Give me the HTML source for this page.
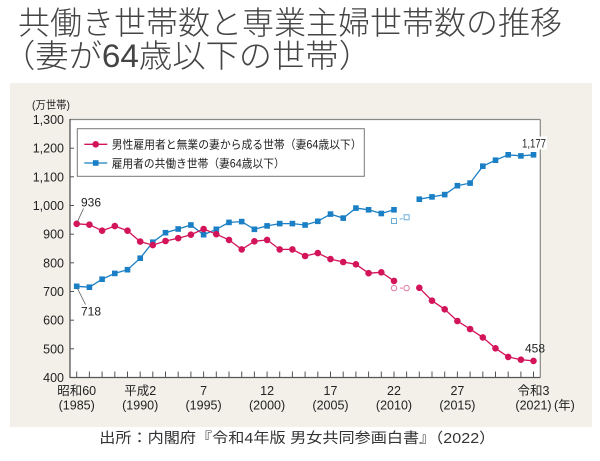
<!DOCTYPE html>
<html><head><meta charset="utf-8"><style>
html,body{margin:0;padding:0;background:#fff;}
body{width:600px;height:461px;overflow:hidden;}
svg{display:block;}
.j{font-family:"Liberation Sans","Noto Sans CJK JP",sans-serif;}
.n{font-family:"Liberation Sans","Noto Sans CJK JP",sans-serif;fill:#222;}
</style></head><body>
<svg width="600" height="461" viewBox="0 0 600 461" xmlns="http://www.w3.org/2000/svg">
<text class="j" x="18" y="34" font-size="32" fill="#444" textLength="544" lengthAdjust="spacingAndGlyphs" font-weight="300">共働き世帯数と専業主婦世帯数の推移</text>
<text class="j" x="2" y="67" font-size="32" fill="#444" textLength="370" lengthAdjust="spacingAndGlyphs" font-weight="300">（妻が64歳以下の世帯）</text>
<rect x="10" y="83" width="582" height="344" fill="#f2f0e9"/>
<rect x="70" y="119.5" width="470.3" height="258" fill="#fff"/>
<line x1="70" y1="119.5" x2="540.3" y2="119.5" stroke="#888" stroke-width="1.2"/>
<line x1="540.3" y1="119.5" x2="540.3" y2="377.5" stroke="#888" stroke-width="1.2"/>
<line x1="70" y1="119" x2="70" y2="378" stroke="#555" stroke-width="1.3"/>
<line x1="70" y1="377.5" x2="540.3" y2="377.5" stroke="#555" stroke-width="1.3"/>
<g stroke="#555" stroke-width="1">
<line x1="70" y1="148.2" x2="74" y2="148.2"/><line x1="70" y1="176.8" x2="74" y2="176.8"/><line x1="70" y1="205.5" x2="74" y2="205.5"/><line x1="70" y1="234.2" x2="74" y2="234.2"/><line x1="70" y1="262.8" x2="74" y2="262.8"/><line x1="70" y1="291.5" x2="74" y2="291.5"/><line x1="70" y1="320.2" x2="74" y2="320.2"/><line x1="70" y1="348.8" x2="74" y2="348.8"/>
<path d="M76.7 377.5v-6M89.4 377.5v-6M102.1 377.5v-6M114.8 377.5v-6M127.5 377.5v-6M140.2 377.5v-6M152.8 377.5v-6M165.5 377.5v-6M178.2 377.5v-6M190.9 377.5v-6M203.6 377.5v-6M216.3 377.5v-6M229 377.5v-6M241.7 377.5v-6M254.4 377.5v-6M267.1 377.5v-6M279.7 377.5v-6M292.4 377.5v-6M305.1 377.5v-6M317.8 377.5v-6M330.5 377.5v-6M343.2 377.5v-6M355.9 377.5v-6M368.6 377.5v-6M381.3 377.5v-6M394 377.5v-6M406.6 377.5v-6M419.3 377.5v-6M432 377.5v-6M444.7 377.5v-6M457.4 377.5v-6M470.1 377.5v-6M482.8 377.5v-6M495.5 377.5v-6M508.2 377.5v-6M520.9 377.5v-6M533.5 377.5v-6"/>
</g>
<g class="n" font-size="12.5" text-anchor="end">
<text x="64" y="124">1,300</text><text x="64" y="152.7">1,200</text><text x="64" y="181.3">1,100</text><text x="64" y="210">1,000</text><text x="64" y="238.7">900</text><text x="64" y="267.3">800</text><text x="64" y="296">700</text><text x="64" y="324.7">600</text><text x="64" y="353.3">500</text><text x="64" y="382">400</text>
</g>
<text class="n" x="32" y="108.5" font-size="11" textLength="38" lengthAdjust="spacingAndGlyphs">(万世帯)</text>
<g class="n" font-size="12.5" text-anchor="middle">
<text x="76.7" y="395">昭和60</text><text x="76.7" y="409.5">(1985)</text>
<text x="140.2" y="395">平成2</text><text x="140.2" y="409.5">(1990)</text>
<text x="203.6" y="395">7</text><text x="203.6" y="409.5">(1995)</text>
<text x="267.1" y="395">12</text><text x="267.1" y="409.5">(2000)</text>
<text x="330.5" y="395">17</text><text x="330.5" y="409.5">(2005)</text>
<text x="394" y="395">22</text><text x="394" y="409.5">(2010)</text>
<text x="457.4" y="395">27</text><text x="457.4" y="409.5">(2015)</text>
<text x="533.5" y="395">令和3</text><text x="533.5" y="409.5">(2021)</text>
</g>
<text class="n" x="554" y="409.5" font-size="12.5">(年)</text>
<!-- blue series -->
<g stroke="#1a7fc4" stroke-width="1.3" fill="none">
<polyline points="76.7,286.3 89.4,287.2 102.1,279.2 114.8,273.4 127.5,269.7 140.2,258.2 152.8,242.2 165.5,232.7 178.2,229 190.9,225 203.6,234.7 216.3,229.3 229,222.4 241.7,221.6 254.4,229.3 267.1,225.9 279.7,223.6 292.4,223.6 305.1,225 317.8,221.3 330.5,214.1 343.2,218.1 355.9,208.1 368.6,209.8 381.3,213.5 394,209.8"/>
<polyline points="419.3,199.2 432,196.9 444.7,194.6 457.4,185.7 470.1,183.1 482.8,166.2 495.5,160.2 508.2,154.8 520.9,155.9 533.5,154.8"/>
</g>
<line x1="394" y1="221" x2="406.6" y2="217.3" stroke="#6aaed8" stroke-width="1" stroke-dasharray="3,3"/>
<g fill="#1a7fc4">
<rect x="73.9" y="283.5" width="5.6" height="5.6"/><rect x="86.6" y="284.4" width="5.6" height="5.6"/><rect x="99.3" y="276.4" width="5.6" height="5.6"/><rect x="112" y="270.6" width="5.6" height="5.6"/><rect x="124.7" y="266.9" width="5.6" height="5.6"/><rect x="137.4" y="255.4" width="5.6" height="5.6"/><rect x="150" y="239.4" width="5.6" height="5.6"/><rect x="162.7" y="229.9" width="5.6" height="5.6"/><rect x="175.4" y="226.2" width="5.6" height="5.6"/><rect x="188.1" y="222.2" width="5.6" height="5.6"/><rect x="200.8" y="231.9" width="5.6" height="5.6"/><rect x="213.5" y="226.5" width="5.6" height="5.6"/><rect x="226.2" y="219.6" width="5.6" height="5.6"/><rect x="238.9" y="218.8" width="5.6" height="5.6"/><rect x="251.6" y="226.5" width="5.6" height="5.6"/><rect x="264.3" y="223.1" width="5.6" height="5.6"/><rect x="276.9" y="220.8" width="5.6" height="5.6"/><rect x="289.6" y="220.8" width="5.6" height="5.6"/><rect x="302.3" y="222.2" width="5.6" height="5.6"/><rect x="315" y="218.5" width="5.6" height="5.6"/><rect x="327.7" y="211.3" width="5.6" height="5.6"/><rect x="340.4" y="215.3" width="5.6" height="5.6"/><rect x="353.1" y="205.3" width="5.6" height="5.6"/><rect x="365.8" y="207" width="5.6" height="5.6"/><rect x="378.5" y="210.7" width="5.6" height="5.6"/><rect x="391.2" y="207" width="5.6" height="5.6"/>
<rect x="416.5" y="196.4" width="5.6" height="5.6"/><rect x="429.2" y="194.1" width="5.6" height="5.6"/><rect x="441.9" y="191.8" width="5.6" height="5.6"/><rect x="454.6" y="182.9" width="5.6" height="5.6"/><rect x="467.3" y="180.3" width="5.6" height="5.6"/><rect x="480" y="163.4" width="5.6" height="5.6"/><rect x="492.7" y="157.4" width="5.6" height="5.6"/><rect x="505.4" y="152" width="5.6" height="5.6"/><rect x="518.1" y="153.1" width="5.6" height="5.6"/><rect x="530.7" y="152" width="5.6" height="5.6"/>
</g>
<g fill="#fff" stroke="#6aaed8" stroke-width="1">
<rect x="391.5" y="218.5" width="5" height="5"/><rect x="404.1" y="214.8" width="5" height="5"/>
</g>
<!-- pink series -->
<g stroke="#d4145a" stroke-width="1.3" fill="none">
<polyline points="76.7,223.8 89.4,224.7 102.1,230.7 114.8,226.1 127.5,230.7 140.2,241.6 152.8,245.1 165.5,241 178.2,238.2 190.9,234.7 203.6,229 216.3,234.2 229,239.9 241.7,249.4 254.4,241.3 267.1,239.9 279.7,249.4 292.4,249.4 305.1,256 317.8,253.1 330.5,259.1 343.2,262 355.9,264.3 368.6,273.2 381.3,272.3 394,280.9"/>
<polyline points="419.3,287.8 432,300.7 444.7,309.3 457.4,321 470.1,329.1 482.8,337.4 495.5,348.3 508.2,356.9 520.9,359.7 533.5,360.9"/>
</g>
<line x1="394" y1="288.1" x2="406.6" y2="288.1" stroke="#e07aa5" stroke-width="1" stroke-dasharray="3,3"/>
<g fill="#d4145a">
<circle cx="76.7" cy="223.8" r="3.3"/><circle cx="89.4" cy="224.7" r="3.3"/><circle cx="102.1" cy="230.7" r="3.3"/><circle cx="114.8" cy="226.1" r="3.3"/><circle cx="127.5" cy="230.7" r="3.3"/><circle cx="140.2" cy="241.6" r="3.3"/><circle cx="152.8" cy="245.1" r="3.3"/><circle cx="165.5" cy="241" r="3.3"/><circle cx="178.2" cy="238.2" r="3.3"/><circle cx="190.9" cy="234.7" r="3.3"/><circle cx="203.6" cy="229" r="3.3"/><circle cx="216.3" cy="234.2" r="3.3"/><circle cx="229" cy="239.9" r="3.3"/><circle cx="241.7" cy="249.4" r="3.3"/><circle cx="254.4" cy="241.3" r="3.3"/><circle cx="267.1" cy="239.9" r="3.3"/><circle cx="279.7" cy="249.4" r="3.3"/><circle cx="292.4" cy="249.4" r="3.3"/><circle cx="305.1" cy="256" r="3.3"/><circle cx="317.8" cy="253.1" r="3.3"/><circle cx="330.5" cy="259.1" r="3.3"/><circle cx="343.2" cy="262" r="3.3"/><circle cx="355.9" cy="264.3" r="3.3"/><circle cx="368.6" cy="273.2" r="3.3"/><circle cx="381.3" cy="272.3" r="3.3"/><circle cx="394" cy="280.9" r="3.3"/>
<circle cx="419.3" cy="287.8" r="3.3"/><circle cx="432" cy="300.7" r="3.3"/><circle cx="444.7" cy="309.3" r="3.3"/><circle cx="457.4" cy="321" r="3.3"/><circle cx="470.1" cy="329.1" r="3.3"/><circle cx="482.8" cy="337.4" r="3.3"/><circle cx="495.5" cy="348.3" r="3.3"/><circle cx="508.2" cy="356.9" r="3.3"/><circle cx="520.9" cy="359.7" r="3.3"/><circle cx="533.5" cy="360.9" r="3.3"/>
</g>
<g fill="#fff" stroke="#e07aa5" stroke-width="1">
<circle cx="394" cy="288.1" r="2.7"/><circle cx="406.6" cy="288.1" r="2.7"/>
</g>
<!-- annotations -->
<line x1="77.5" y1="221.5" x2="83.5" y2="208.5" stroke="#555" stroke-width="0.8"/>
<text class="n" x="81" y="206.5" font-size="12">936</text>
<line x1="77.5" y1="288.5" x2="85.5" y2="304.5" stroke="#555" stroke-width="0.8"/>
<text class="n" x="81" y="315.5" font-size="12">718</text>
<rect x="521" y="136.5" width="26" height="13" fill="#fff"/>
<text class="n" x="522" y="147.5" font-size="12" textLength="24" lengthAdjust="spacingAndGlyphs">1,177</text>
<text class="n" x="525" y="352.7" font-size="12">458</text>
<!-- legend -->
<rect x="77.3" y="128.7" width="287" height="47.6" fill="#fff" stroke="#777" stroke-width="1"/>
<line x1="84.3" y1="144.3" x2="107.3" y2="144.3" stroke="#d4145a" stroke-width="1.3"/>
<circle cx="95.7" cy="144.3" r="3.3" fill="#d4145a"/>
<line x1="84.3" y1="163" x2="107.3" y2="163" stroke="#1a7fc4" stroke-width="1.3"/>
<rect x="92.9" y="160.2" width="5.6" height="5.6" fill="#1a7fc4"/>
<text class="n" x="111.7" y="148.5" font-size="11.5" textLength="250" lengthAdjust="spacingAndGlyphs">男性雇用者と無業の妻から成る世帯（妻64歳以下）</text>
<text class="n" x="111.7" y="167.3" font-size="11.5" textLength="173" lengthAdjust="spacingAndGlyphs">雇用者の共働き世帯（妻64歳以下）</text>
<!-- source -->
<text class="j" x="99.3" y="443" font-size="14.5" fill="#333" textLength="396" lengthAdjust="spacingAndGlyphs">出所：内閣府『令和4年版 男女共同参画白書』（2022）</text>
</svg>
</body></html>
